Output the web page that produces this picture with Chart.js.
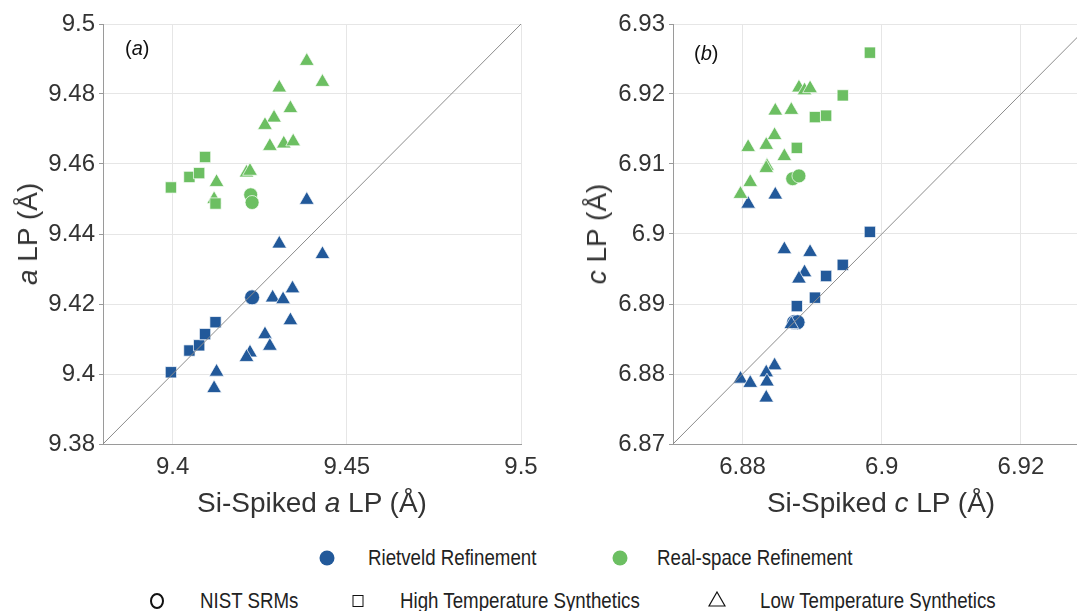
<!DOCTYPE html>
<html>
<head>
<meta charset="utf-8">
<script src="https://cdn.jsdelivr.net/npm/chart.js@4.4.1/dist/chart.umd.min.js"></script>
<style>
  html, body { margin: 0; padding: 0; background: #fff; overflow: hidden; width: 1077px; height: 611px; }
  body { position: relative; font-family: "Liberation Sans", Arial, sans-serif; color: #333; }
  .box { position: absolute; top: 0; }
  .lbl { position: absolute; white-space: nowrap; font-size: 28px; color: #333; }
  .ylbl { transform: translate(-50%, -50%) rotate(-90deg); }
  .xlbl { transform: translate(-50%, -50%); }
  .panel { position: absolute; font-size: 20px; color: #111; transform: translateY(-50%); }
  .leg { position: absolute; font-family: "Liberation Sans", Arial, sans-serif; font-size: 22px; color: #222;
         transform: translateY(-50%) scaleX(0.85); transform-origin: left center; white-space: nowrap; }
  .mk { position: absolute; transform: translate(-50%, -50%); }
</style>
</head>
<body>
<div class="box" style="left:0;width:560px;height:490px"><canvas id="chartA" width="560" height="490"></canvas></div>
<div class="box" style="left:570px;width:530px;height:490px"><canvas id="chartB" width="530" height="490"></canvas></div>

<div class="lbl ylbl" style="left:28px;top:234px"><i>a</i> LP (Å)</div>
<div class="lbl xlbl" style="left:312px;top:503px">Si-Spiked <i>a</i> LP (Å)</div>
<div class="panel" style="left:125px;top:48px">(<i>a</i>)</div>

<div class="lbl ylbl" style="left:597px;top:234px"><i>c</i> LP (Å)</div>
<div class="lbl xlbl" style="left:881px;top:503px">Si-Spiked <i>c</i> LP (Å)</div>
<div class="panel" style="left:694px;top:53px">(<i>b</i>)</div>

<div class="mk" style="left:327px;top:558px;width:15px;height:15px;border-radius:50%;background:#22599a"></div>
<div class="leg" style="left:368px;top:558px">Rietveld Refinement</div>
<div class="mk" style="left:620px;top:558px;width:15px;height:15px;border-radius:50%;background:#6cbf62"></div>
<div class="leg" style="left:657px;top:558px">Real-space Refinement</div>

<div class="mk" style="left:157px;top:601px;width:10px;height:12px;border-radius:50%;border:2.5px solid #111"></div>
<div class="leg" style="left:200px;top:601px">NIST SRMs</div>
<div class="mk" style="left:358px;top:601px;width:9px;height:10px;border:1px solid #111"></div>
<div class="leg" style="left:400px;top:601px">High Temperature Synthetics</div>
<svg class="mk" style="left:717px;top:599px" width="18" height="16"><polygon points="9,1 17,15 1,15" fill="none" stroke="#111" stroke-width="1.2"/></svg>
<div class="leg" style="left:760px;top:601px">Low Temperature Synthetics</div>

<script>
const BLUE = '#22599a';
const GREEN = '#6cbf62';

// ---- panel (a): a lattice parameter ----
const aXTicks = [9.4, 9.45, 9.5];
const aYTicks = [9.38, 9.4, 9.42, 9.44, 9.46, 9.48, 9.5];
const aRange = [9.38, 9.5];

const aRietveldNist = [[9.4228, 9.4219]];
const aRietveldHigh = [[9.3995, 9.4005], [9.4048, 9.4067], [9.4076, 9.4082], [9.4093, 9.4114], [9.4123, 9.4148]];
const aRietveldLow = [[9.4385, 9.4497], [9.4306, 9.4372], [9.443, 9.4342], [9.4344, 9.4244], [9.4287, 9.4218],
  [9.4317, 9.4213], [9.4338, 9.4153], [9.4265, 9.4113], [9.4279, 9.408], [9.4222, 9.4061], [9.4212, 9.4048],
  [9.4126, 9.4006], [9.4119, 9.3959]];
const aRealNist = [[9.4224, 9.4512], [9.4228, 9.449]];
const aRealHigh = [[9.3995, 9.4533], [9.4048, 9.4563], [9.4076, 9.4574], [9.4093, 9.462], [9.4123, 9.4487]];
const aRealLow = [[9.4385, 9.4894], [9.443, 9.4834], [9.4306, 9.4818], [9.4338, 9.4759], [9.4291, 9.4732],
  [9.4265, 9.4711], [9.4279, 9.4651], [9.4319, 9.4658], [9.4346, 9.4664], [9.4212, 9.4575], [9.4222, 9.458],
  [9.4126, 9.4548], [9.4119, 9.4499]];

// ---- panel (b): c lattice parameter ----
const cXTicks = [6.88, 6.9, 6.92];
const cYTicks = [6.87, 6.88, 6.89, 6.9, 6.91, 6.92, 6.93];
const cRange = [6.87, 6.93];

const cRietveldNist = [[6.8874, 6.8874], [6.8879, 6.8874]];
const cRietveldHigh = [[6.8983, 6.9003], [6.8944, 6.8956], [6.892, 6.894], [6.8904, 6.8909], [6.8878, 6.8897]];
const cRietveldLow = [[6.8808, 6.9043], [6.8847, 6.9056], [6.886, 6.8978], [6.8897, 6.8974], [6.8889, 6.8945],
  [6.8881, 6.8936], [6.887, 6.8871], [6.8846, 6.8812], [6.8834, 6.8802], [6.8835, 6.8789], [6.8797, 6.8793],
  [6.8811, 6.8787], [6.8834, 6.8766]];
const cRealNist = [[6.8872, 6.9079], [6.8881, 6.9083]];
const cRealHigh = [[6.8983, 6.9259], [6.8944, 6.9198], [6.8904, 6.9167], [6.892, 6.9169], [6.8878, 6.9123]];
const cRealLow = [[6.8881, 6.9209], [6.8889, 6.9205], [6.8897, 6.9208], [6.8847, 6.9176], [6.887, 6.9177],
  [6.8846, 6.9141], [6.8834, 6.9127], [6.8808, 6.9124], [6.886, 6.9111], [6.8835, 6.9097], [6.8834, 6.9094],
  [6.8811, 6.9074], [6.8797, 6.9057]];

const tickFont = { family: '"Liberation Sans", Arial, sans-serif', size: 24 };

function pts(arr) {
  return arr.map(p => ({ x: p[0], y: p[1] }));
}

function series(arr, color, shape, r) {
  return {
    data: pts(arr),
    backgroundColor: color,
    borderColor: 'rgba(255,255,255,0.7)',
    borderWidth: 1,
    pointStyle: shape,
    pointRadius: r,
    pointHoverRadius: r
  };
}

function makeChart(id, xTicks, yTicks, range, groups, padRight) {
  const ctx = document.getElementById(id).getContext('2d');
  const datasets = [
    {
      type: 'line',
      data: [{ x: range[0], y: range[0] }, { x: range[1], y: range[1] }],
      borderColor: '#8c8c8c',
      borderWidth: 1,
      pointRadius: 0
    },
    series(groups[4], GREEN, 'rect', 8),
    series(groups[5], GREEN, 'triangle', 8.5),
    series(groups[3], GREEN, 'circle', 7),
    series(groups[1], BLUE, 'rect', 8),
    series(groups[2], BLUE, 'triangle', 8.5),
    series(groups[0], BLUE, 'circle', 7.5)
  ];
  return new Chart(ctx, {
    type: 'scatter',
    data: { datasets: datasets },
    options: {
      responsive: false,
      animation: false,
      layout: { padding: { top: 24, right: padRight, left: 0, bottom: 0 } },
      plugins: { legend: { display: false }, tooltip: { enabled: false } },
      scales: {
        x: {
          type: 'linear',
          min: range[0],
          max: range[1],
          afterBuildTicks: s => { s.ticks = xTicks.map(v => ({ value: v })); },
          afterFit: s => { s.height = 46; s.paddingLeft = 0; s.paddingRight = 0; },
          ticks: { font: tickFont, color: '#333', padding: 9, maxRotation: 0, callback: v => String(v) },
          grid: { color: '#e6e6e6', drawTicks: false },
          border: { color: '#9a9a9a', width: 1 }
        },
        y: {
          type: 'linear',
          min: range[0],
          max: range[1],
          afterBuildTicks: s => { s.ticks = yTicks.map(v => ({ value: v })); },
          afterFit: s => { s.width = 103; s.paddingTop = 0; s.paddingBottom = 0; },
          ticks: { font: tickFont, color: '#333', padding: 4, callback: v => String(v) },
          grid: { color: '#e6e6e6', tickLength: 4, tickColor: '#9a9a9a' },
          border: { color: '#9a9a9a', width: 1 }
        }
      }
    }
  });
}

makeChart('chartA', aXTicks, aYTicks, aRange,
  [aRietveldNist, aRietveldHigh, aRietveldLow, aRealNist, aRealHigh, aRealLow], 39);
makeChart('chartB', cXTicks, cYTicks, cRange,
  [cRietveldNist, cRietveldHigh, cRietveldLow, cRealNist, cRealHigh, cRealLow], 9);
</script>
</body>
</html>
